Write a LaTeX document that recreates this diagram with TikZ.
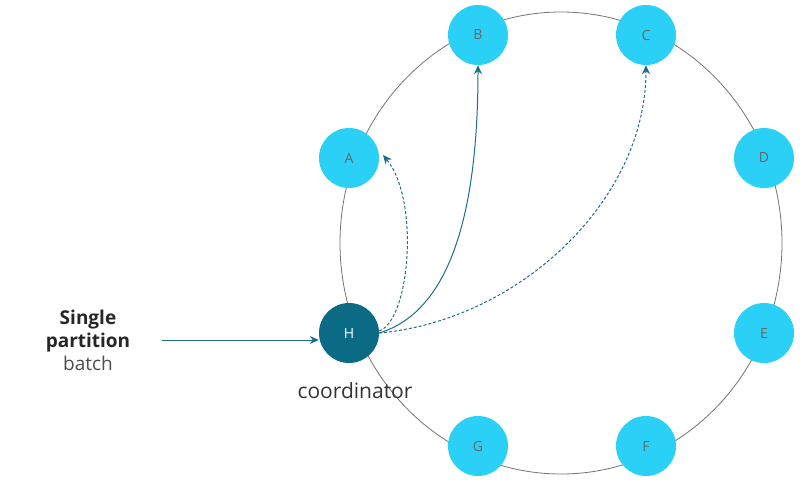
\documentclass[tikz,border=0pt]{standalone}
\usepackage{fontspec}
\setmainfont{Open Sans}
\usetikzlibrary{arrows.meta}
\definecolor{cy}{HTML}{2BD0F7}
\definecolor{dk}{HTML}{0B6A84}
\definecolor{ar}{HTML}{1C6E88}
\begin{document}
\begin{tikzpicture}[x=1pt,y=-1pt,
  nd/.style={circle,fill=cy,minimum size=60pt,inner sep=0pt,text=black!60,font=\fontsize{14}{16}\selectfont},
  con/.style={ar,line width=1pt,-{Stealth[length=9pt,width=8pt]}},
  dcon/.style={con,dashed,dash pattern=on 3pt off 2pt}]
\useasboundingbox (0,0) rectangle (800,487);
\draw[black!55,line width=0.8pt] (561,243) ellipse [x radius=221, y radius=231];
\node[nd] (A) at (349,158) {A};
\node[nd] (B) at (478,35) {B};
\node[nd] (C) at (646,35) {C};
\node[nd] (D) at (764,158) {D};
\node[nd] (E) at (764,333) {E};
\node[nd] (F) at (646,446) {F};
\node[nd] (G) at (478,446) {G};
\node[nd,fill=dk,text=white] (H) at (349,333) {H};
\node[font=\fontsize{21}{24}\selectfont,text=black!80] (co) at (355,391) {coordinator};
\node[align=center,font=\fontsize{19}{23}\selectfont,text=black!85] (t) at (88,340) {\textbf{Single}\\\textbf{partition}\\{\color{black!70}batch}};
\draw[con] (162,340) -- (H.west|-0,340) coordinate (hw);
\draw[dcon] (H.east) ++(0,-2) coordinate (h1) .. controls (410,320) and (420,200) .. (383,155);
\draw[con] (H.east) .. controls (455,310) and (478,200) .. (B.south);
\draw[dcon] (H.east) .. controls (520,320) and (646,200) .. (C.south);
\end{tikzpicture}
\end{document}
